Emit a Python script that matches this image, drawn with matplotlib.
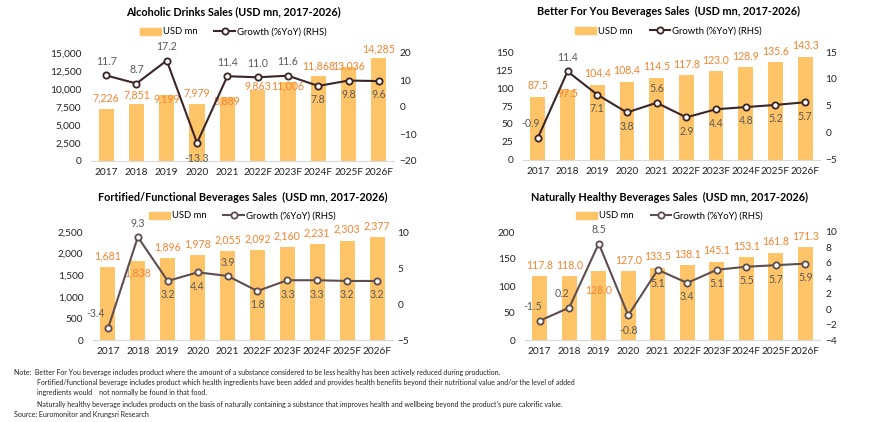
import matplotlib.pyplot as plt
from matplotlib.patches import Patch
from matplotlib.lines import Line2D

plt.rcParams['font.family'] = ['Lato', 'DejaVu Sans']

years = ['2017', '2018', '2019', '2020', '2021', '2022F', '2023F', '2024F', '2025F', '2026F']

alc_sales = [7226, 7851, 9199, 7979, 8889, 9863, 11006, 11868, 13036, 14285]
alc_growth = [11.7, 8.7, 17.2, -13.3, 11.4, 11.0, 11.6, 7.8, 9.8, 9.6]

bfy_sales = [87.5, 97.5, 104.4, 108.4, 114.5, 117.8, 123.0, 128.9, 135.6, 143.3]
bfy_growth = [-0.9, 11.4, 7.1, 3.8, 5.6, 2.9, 4.4, 4.8, 5.2, 5.7]

fort_sales = [1681, 1838, 1896, 1978, 2055, 2092, 2160, 2231, 2303, 2377]
fort_growth = [-3.4, 9.3, 3.2, 4.4, 3.9, 1.8, 3.3, 3.3, 3.2, 3.2]

nat_sales = [117.8, 118.0, 128.0, 127.0, 133.5, 138.1, 145.1, 153.1, 161.8, 171.3]
nat_growth = [-1.5, 0.2, 8.5, -0.8, 5.1, 3.4, 5.1, 5.5, 5.7, 5.9]

# label offsets in points (dx, dy)
alc_sales_off = [(0, 8), (0, 7), (0, -3), (0, 8), (0, -3), (0, 3), (0, -3), (0, 7), (0, 1), (0, 7)]
alc_growth_off = [(0, 10), (0, 10), (0, 10), (0, -11), (0, 10), (0, 10), (0, 10), (0, -10), (0, -10), (0, -10)]
bfy_sales_off = [(0, 8), (0, -3), (0, 8), (0, 8), (0, 8), (0, 8), (0, 8), (0, 8), (0, 8), (0, 8)]
bfy_growth_off = [(-5, 10), (0, 10), (0, -10), (0, -10), (0, 10), (0, -10), (0, -10), (0, -10), (0, -10), (0, -10)]
fort_sales_off = [(0, 8), (0, -9), (0, 8), (0, 8), (0, 8), (0, 8), (0, 8), (0, 8), (0, 8), (0, 8)]
fort_growth_off = [(-9, 11), (0, 10), (0, -10), (0, -10), (0, 10), (0, -10), (0, -10), (0, -10), (0, -10), (0, -10)]
nat_sales_off = [(0, 8), (0, 8), (0, -14), (0, 8), (0, 8), (0, 8), (0, 8), (0, 8), (0, 8), (0, 8)]
nat_growth_off = [(-5, 10), (-5, 10), (0, 10), (0, -11), (0, -10), (0, -10), (0, -10), (0, -10), (0, -10), (0, -10)]

BAR = '#FFC468'
ORANGE = '#F7822E'
GREY = '#595959'


def draw(rect, title, sales, growth, lticks, rticks, tfmt, sfmt, s_off, g_off, lcolor,
         title_dy, leg_dy, cx=0.5):
    ax = fig.add_axes(rect)
    x = range(len(years))
    ax.bar(x, sales, width=0.5, color=BAR, zorder=1)
    ax.set_xlim(-0.5, len(years) - 0.5)
    ax.set_ylim(lticks[0], lticks[-1])
    ax.set_yticks(lticks)
    ax.set_yticklabels([tfmt.format(t) for t in lticks])
    ax.set_xticks(list(x))
    ax.set_xticklabels(years)
    ax.tick_params(length=0, labelsize=7.3, colors='#222222')
    ax.tick_params(axis='y', pad=7)
    ax.tick_params(axis='x', pad=5)
    for s in ['top', 'left', 'right']:
        ax.spines[s].set_visible(False)
    ax.spines['bottom'].set_color('#D9D9D9')
    for i, v in enumerate(sales):
        ax.annotate(sfmt.format(v), (i, v), xytext=s_off[i], textcoords='offset points',
                    ha='center', va='center', color=ORANGE, fontsize=7.6, zorder=5)

    ax2 = ax.twinx()
    ax2.plot(x, growth, color=lcolor, lw=1.5, marker='o', ms=4.5,
             mfc='white', mec=lcolor, mew=1.3, zorder=3)
    ax2.set_ylim(rticks[0], rticks[-1])
    ax2.set_yticks(rticks)
    ax2.tick_params(length=0, labelsize=7.3, colors='#222222', pad=4)
    for s in ['top', 'left', 'right', 'bottom']:
        ax2.spines[s].set_visible(False)
    for i, v in enumerate(growth):
        ax2.annotate('{:.1f}'.format(v), (i, v), xytext=g_off[i], textcoords='offset points',
                     ha='center', va='center', color=GREY, fontsize=7.6, zorder=5)

    h = rect[3] * 422
    ax.text(cx, 1 + title_dy / h, title, transform=ax.transAxes, ha='center', va='center',
            fontsize=7.8, fontweight='bold')
    handles = [Patch(color=BAR),
               Line2D([0], [0], color=lcolor, lw=1.5, marker='o', ms=4.5,
                      mfc='white', mec=lcolor, mew=1.3)]
    ax.legend(handles, ['USD mn', 'Growth (%YoY) (RHS)'], ncol=2, frameon=False,
              loc='center', bbox_to_anchor=(cx, 1 + leg_dy / h), fontsize=6.8,
              handlelength=2.2, handleheight=0.7, columnspacing=1.8, handletextpad=0.2,
              borderaxespad=0, borderpad=0)


fig = plt.figure(figsize=(8.7, 4.22), dpi=100)

draw([91 / 870, 1 - 161 / 422, 303 / 870, 108 / 422], 'Alcoholic Drinks Sales (USD mn, 2017-2026)',
     alc_sales, alc_growth, list(range(0, 15001, 2500)), [-20, -10, 0, 10, 20], '{:,.0f}', '{:,.0f}',
     alc_sales_off, alc_growth_off, '#3A2626', 41, 21, cx=0.47)
draw([523 / 870, 1 - 160 / 422, 297 / 870, 108 / 422], 'Better For You Beverages Sales  (USD mn, 2017-2026)',
     bfy_sales, bfy_growth, list(range(0, 151, 25)), [-5, 0, 5, 10, 15], '{:d}', '{:.1f}',
     bfy_sales_off, bfy_growth_off, '#3A2626', 41, 21, cx=0.49)
draw([93 / 870, 1 - 340 / 422, 299 / 870, 108 / 422], 'Fortified/Functional Beverages Sales  (USD mn, 2017-2026)',
     fort_sales, fort_growth, list(range(0, 2501, 500)), [-5, 0, 5, 10], '{:,.0f}', '{:,.0f}',
     fort_sales_off, fort_growth_off, '#5E4E4E', 35, 16)
draw([525 / 870, 1 - 340 / 422, 295 / 870, 108 / 422], 'Naturally Healthy Beverages Sales  (USD mn, 2017-2026)',
     nat_sales, nat_growth, list(range(0, 201, 50)), list(range(-4, 11, 2)), '{:d}', '{:.1f}',
     nat_sales_off, nat_growth_off, '#5E4E4E', 35, 16, cx=0.49)

notes = [
    (14, 373, 'Note:  Better For You beverage includes product where the amount of a substance considered to be less healthy has been actively reduced during production.'),
    (37, 383, 'Fortified/functional beverage includes product which health ingredients have been added and provides health benefits beyond their nutritional value and/or the level of added'),
    (37, 393, 'ingredients would    not normally be found in that food.'),
    (37, 404, "Naturally healthy beverage includes products on the basis of naturally containing a substance that improves health and wellbeing beyond the product's pure calorific value."),
    (14, 414, 'Source: Euromonitor and Krungsri Research'),
]
for nx, ny, txt in notes:
    fig.text(nx / 870, 1 - ny / 422, txt, fontsize=5.0, va='center', ha='left', color='#222222')

fig.savefig('out.png', dpi=100, facecolor='white')
